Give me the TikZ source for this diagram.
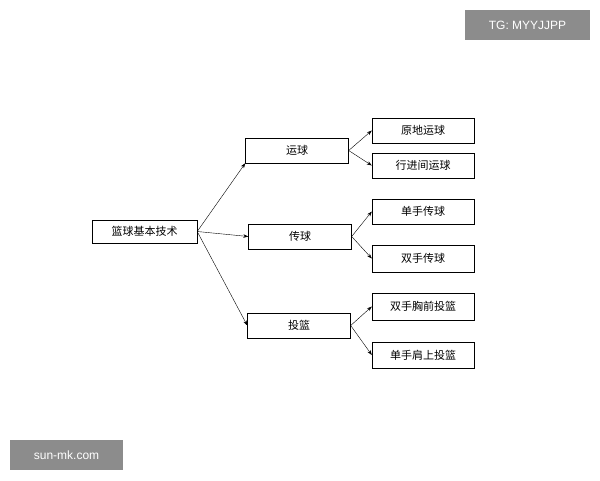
\documentclass[tikz,border=0pt]{standalone}
\usepackage{fontspec}
\setmainfont{Liberation Sans}
\newfontfamily\cjk{Noto Sans CJK SC}
\usetikzlibrary{arrows.meta}
\begin{document}
\begin{tikzpicture}[x=1pt,y=-1pt,
  bx/.style={draw,thin,minimum height=25pt,inner sep=0pt,font=\cjk\fontsize{11}{11}\selectfont},
  mid/.style={bx,minimum width=103pt},
  leaf/.style={bx,minimum width=102pt},
  ar/.style={-{Stealth[length=5pt,width=3.5pt]},thin},
  wm/.style={fill=black!45,text=white,inner sep=0pt,font=\fontsize{12}{12}\selectfont}]
\useasboundingbox (0,0) rectangle (600,480);
\node[bx,minimum width=105pt,minimum height=23pt] (r) at (144.5,231.5) {篮球基本技术};
\node[mid] (a) at (297,150.5) {运球};
\node[mid] (b) at (300,236.5) {传球};
\node[mid] (c) at (299,325.5) {投篮};
\node[leaf] (a1) at (423,130.5) {原地运球};
\node[leaf] (a2) at (423,165.5) {行进间运球};
\node[leaf] (b1) at (423,211.5) {单手传球};
\node[leaf,minimum height=27pt] (b2) at (423,258.5) {双手传球};
\node[leaf,minimum height=27pt] (c1) at (423,306.5) {双手胸前投篮};
\node[leaf,minimum height=26pt] (c2) at (423,355) {单手肩上投篮};
\draw[ar] (r.east) -- (a.south west);
\draw[ar] (r.east) -- (b.west);
\draw[ar] (r.east) -- (c.west);
\foreach \m/\l in {a/a1,a/a2,b/b1,b/b2,c/c1,c/c2} \draw[ar] (\m.east) -- (\l.west);
\node[wm,minimum width=125pt,minimum height=30pt] (w1) at (527.5,25) {TG: MYYJJPP};
\node[wm,minimum width=113pt,minimum height=30pt] (w2) at (66.5,455) {sun-mk.com};
\end{tikzpicture}
\end{document}
